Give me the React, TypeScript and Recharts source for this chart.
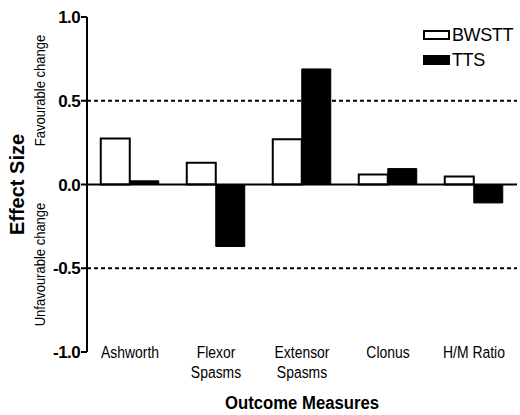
import { BarChart, Bar, XAxis, YAxis, ReferenceLine, Legend, Label } from "recharts";

const categories = ["Ashworth", "Flexor\nSpasms", "Extensor\nSpasms", "Clonus", "H/M Ratio"];
const bwstt = [0.275, 0.13, 0.27, 0.06, 0.048];
const tts = [0.022, -0.37, 0.69, 0.095, -0.11];
const yTicks = [-1, -0.5, 0, 0.5, 1];
const seriesNames = ["BWSTT", "TTS"];

const FONT = "'Liberation Sans', Arial, sans-serif";

const data = categories.map((name, i) => ({ name, bwstt: bwstt[i], tts: tts[i] }));

// category labels, some on two lines, in a narrow face
const XTick = (props: any) => {
  const { x, y, payload } = props;
  const lines = String(payload.value).split("\n");
  return (
    <g transform={`translate(${x},${y})`}>
      {lines.map((line, i) => (
        <text
          key={i}
          x={0}
          y={6 + i * 20}
          textAnchor="middle"
          transform="scale(0.82,1)"
          fontFamily={FONT}
          fontSize={17}
          fill="#000"
        >
          {line}
        </text>
      ))}
    </g>
  );
};

const YTitle = (props: any) => {
  const { viewBox } = props;
  const cy = viewBox.y + viewBox.height / 2;
  return (
    <g fontFamily={FONT} fill="#000">
      <text
        transform={`translate(17,${cy}) rotate(-90)`}
        textAnchor="middle"
        dominantBaseline="central"
        fontSize={20}
        fontWeight="bold"
      >
        Effect Size
      </text>
      <text
        transform={`translate(40,${cy - 94}) rotate(-90) scale(0.93,1)`}
        textAnchor="middle"
        dominantBaseline="central"
        fontSize={14}
      >
        Favourable change
      </text>
      <text
        transform={`translate(40,${cy + 80}) rotate(-90) scale(0.93,1)`}
        textAnchor="middle"
        dominantBaseline="central"
        fontSize={14}
      >
        Unfavourable change
      </text>
    </g>
  );
};

const XTitle = (props: any) => {
  const { viewBox } = props;
  return (
    <text
      transform={`translate(${viewBox.x + viewBox.width / 2},${viewBox.y + 57}) scale(0.88,1)`}
      textAnchor="middle"
      fontFamily={FONT}
      fontSize={19}
      fontWeight="bold"
      fill="#000"
    >
      Outcome Measures
    </text>
  );
};

const LegendBox = () => (
  <svg width={97} height={45} style={{ display: "block" }}>
    <rect x={1} y={5} width={25} height={8} fill="#fff" stroke="#000" strokeWidth={2} />
    <text x={29} y={15} fontFamily={FONT} fontSize={18} transform="scale(1,1)" letterSpacing={-0.4} fill="#000">
      {seriesNames[0]}
    </text>
    <rect x={0} y={29} width={27} height={10} fill="#000" />
    <text x={29} y={40} fontFamily={FONT} fontSize={18} letterSpacing={-0.4} fill="#000">
      {seriesNames[1]}
    </text>
  </svg>
);

export default function App() {
  return (
    <div style={{ position: "absolute", left: 0, top: 0, width: 520, height: 415, background: "#fff" }}>
      <BarChart
        width={520}
        height={415}
        data={data}
        margin={{ top: 17, right: 3, left: 0, bottom: 0 }}
        barCategoryGap="16%"
        barGap={0}
      >
        <XAxis
          dataKey="name"
          axisLine={false}
          tickLine={false}
          tickSize={0}
          tickMargin={0}
          height={63}
          interval={0}
          tick={<XTick />}
        >
          <Label content={<XTitle />} />
        </XAxis>
        <YAxis
          width={87}
          domain={[-1, 1]}
          ticks={yTicks}
          interval={0}
          tickFormatter={(v: number) => v.toFixed(1)}
          axisLine={{ stroke: "#000", strokeWidth: 2 }}
          tickLine={{ stroke: "#000", strokeWidth: 2 }}
          tickSize={6}
          tickMargin={1}
          tick={{ fill: "#000", fontSize: 17, fontWeight: "bold", fontFamily: FONT, letterSpacing: -0.6 }}
        >
          <Label content={<YTitle />} />
        </YAxis>
        <ReferenceLine y={0.5} stroke="#000" strokeWidth={2} strokeDasharray="4 3" />
        <ReferenceLine y={-0.5} stroke="#000" strokeWidth={2} strokeDasharray="4 3" />
        <Legend
          layout="horizontal"
          align="center"
          verticalAlign="middle"
          content={<LegendBox />}
          wrapperStyle={{ top: 26, left: 423, right: "auto", width: 97, height: 45 }}
        />
        <Bar dataKey="bwstt" name={seriesNames[0]} fill="#fff" stroke="#000" strokeWidth={2} isAnimationActive={false} />
        <Bar dataKey="tts" name={seriesNames[1]} fill="#000" stroke="#000" strokeWidth={1} isAnimationActive={false} />
        <ReferenceLine y={0} stroke="#000" strokeWidth={2} />
      </BarChart>
    </div>
  );
}
